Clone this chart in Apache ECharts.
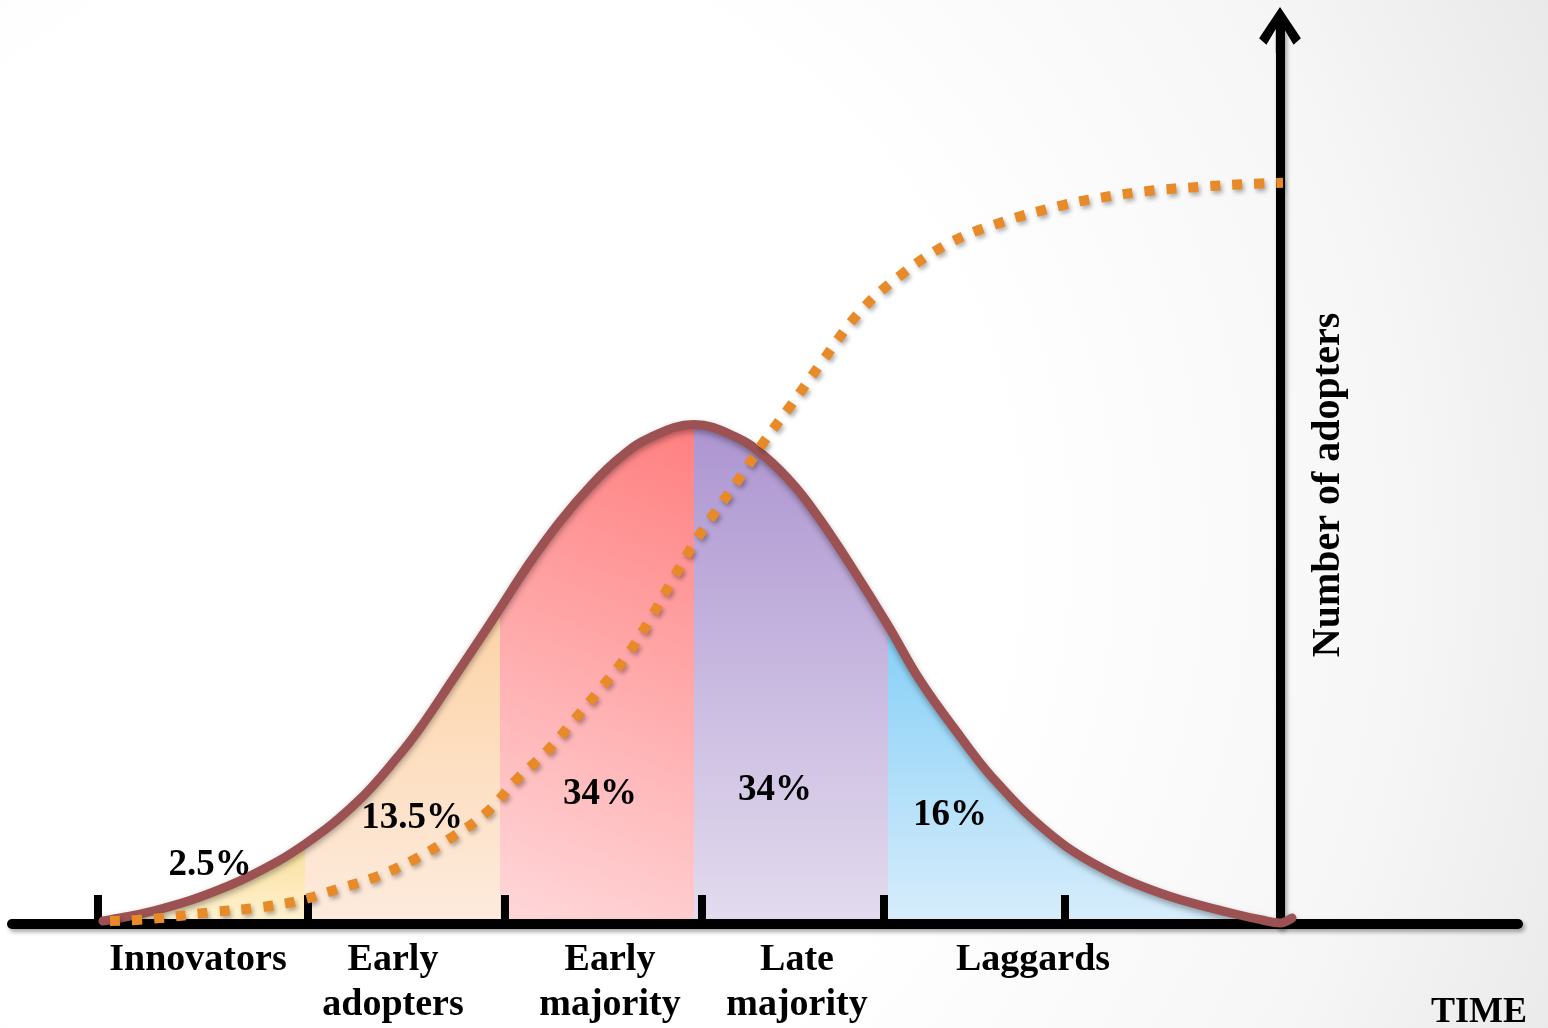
<!DOCTYPE html>
<html>
<head>
<meta charset="utf-8">
<script src="https://cdn.jsdelivr.net/npm/echarts@6/dist/echarts.min.js"></script>
<style>
html,body{margin:0;padding:0;background:#fff;}
#chart{width:1548px;height:1028px;}
</style>
</head>
<body>
<div id="chart"></div>
<script>
// ---- data (x = time position, y = number of adopters, both in drawing units) ----
const tickX = [98, 308, 505, 702, 884, 1065];
const catX = [198, 393, 610, 797, 1033];
const catNames = ['Innovators', 'Early\nadopters', 'Early\nmajority', 'Late\nmajority', 'Laggards'];

const bellX = [103, 125, 157, 200, 250, 305, 357, 400, 420, 453, 487, 500, 530, 560, 590, 620, 650, 694,
               735, 765, 795, 820, 850, 888, 920, 960, 993, 1043, 1093, 1160, 1227, 1262, 1280, 1292];
const bellY = [3, 7, 14, 27, 48, 80, 122, 170, 196, 245, 296, 316, 362, 403, 438, 467, 487, 500,
               488, 468, 438, 405, 360, 299, 244, 188, 146, 96, 61, 31, 12, 4, 1, 6];

const segBounds = [103, 305, 500, 694, 888, 1292];

const sX = [110, 150, 213, 255, 297, 338, 378, 415, 452, 487, 517, 546, 573, 600, 627, 650, 671, 692,
            715, 740, 764, 790, 820, 860, 900, 950, 1000, 1060, 1100, 1150, 1200, 1250, 1283];
const sY = [3, 5, 12, 16, 23, 35, 48, 65, 87, 112, 145, 172, 203, 235, 269, 305, 342, 378,
            412, 447, 483, 518, 560, 613, 649, 682, 702, 719, 727, 734, 738, 741, 742];

const pctLabels = ['2.5%', '13.5%', '34%', '34%', '16%'];
const pctX = [210, 412, 600, 775, 950];
const pctY = [59, 106, 130, 134, 109];

// ---- styles ----
const FONT = '"Liberation Serif", "DejaVu Serif", serif';
const segFills = [
  {type:'linear', x:0, y:0, x2:0, y2:1, colorStops:[{offset:0,color:'#fbe09c'},{offset:1,color:'#fff2d2'}]},
  {type:'linear', x:0, y:0, x2:0, y2:1, colorStops:[{offset:0,color:'#fdd3a6'},{offset:1,color:'#fdebde'}]},
  {type:'linear', x:0, y:1, x2:1, y2:0, colorStops:[{offset:0,color:'#ffd8da'},{offset:1,color:'#ff7f80'}]},
  {type:'linear', x:0, y:0, x2:0, y2:1, colorStops:[{offset:0,color:'#ad95d1'},{offset:1,color:'#e3dcee'}]},
  {type:'linear', x:0, y:0, x2:0, y2:1, colorStops:[{offset:0,color:'#84cff7'},{offset:1,color:'#d8edfb'}]}
];

const bellData = bellX.map((x, i) => [x, bellY[i]]);
const sData = sX.map((x, i) => [x, sY[i]]);

const SMOOTH = 0.4;
const series = [];
for (let s = 0; s < 5; s++) {
  const a = segBounds[s], b = segBounds[s + 1];
  series.push({
    type: 'line', z: 2, silent: true,
    data: bellData.filter(p => p[0] >= a && p[0] <= b),
    smooth: SMOOTH, symbol: 'none',
    lineStyle: {width: 0, opacity: 0},
    areaStyle: {color: segFills[s], opacity: 1}
  });
}
series.push({
  type: 'line', z: 10, silent: true, data: bellData,
  smooth: SMOOTH, symbol: 'none',
  lineStyle: {width: 9, color: '#9c5152', cap: 'round', join: 'round',
              shadowBlur: 6, shadowColor: 'rgba(0,0,0,0.35)', shadowOffsetY: 3}
});
series.push({
  type: 'line', z: 11, silent: true, data: sData,
  smooth: SMOOTH, symbol: 'none',
  lineStyle: {width: 10, color: '#e88a28', type: [10, 12], cap: 'butt',
              shadowBlur: 4, shadowColor: 'rgba(0,0,0,0.3)', shadowOffsetX: 2, shadowOffsetY: 3}
});
series.push({
  type: 'scatter', z: 12, silent: true,
  data: pctX.map((x, i) => [x, pctY[i], pctLabels[i]]),
  symbolSize: 1, itemStyle: {color: 'rgba(0,0,0,0)', opacity: 1},
  label: {show: true, position: 'inside', formatter: p => p.data[2], opacity: 1,
          fontFamily: FONT, fontWeight: 'bold', fontSize: 37, color: '#000',
          textBorderWidth: 0, textShadowBlur: 0}
});

const chevron = 'path://M20 0 L40 30 L33 36 L24 21 L24 44 L16 44 L16 21 L7 36 L0 30 Z';

const option = {
  animation: false,
  backgroundColor: {type:'radial', x:0.26, y:0.53, r:1.3,
    colorStops:[{offset:0,color:'#ffffff'},{offset:0.45,color:'#ffffff'},{offset:0.75,color:'#f6f6f6'},{offset:1,color:'#e6e6e6'}]},
  title: {text: 'TIME', right: 16, bottom: -8,
          textStyle: {fontFamily: FONT, fontWeight: 'bold', fontSize: 36, color: '#000'}},
  grid: {left: 12, right: 30, top: 30, bottom: 103},
  xAxis: {
    type: 'value', min: 12, max: 1518, z: 5,
    axisLine: {show: true, onZero: false, lineStyle: {color: '#000', width: 10,
               shadowBlur: 4, shadowColor: 'rgba(0,0,0,0.35)', shadowOffsetX: 2, shadowOffsetY: 3}},
    axisTick: {show: true, inside: true, length: 29, customValues: tickX,
               lineStyle: {color: '#000', width: 8}},
    axisLabel: {show: true, customValues: catX, hideOverlap: false, margin: 14,
                formatter: v => catNames[catX.indexOf(v)],
                fontFamily: FONT, fontWeight: 'bold', fontSize: 38, lineHeight: 45, color: '#000'},
    splitLine: {show: false}
  },
  yAxis: {
    type: 'value', min: 0, max: 895, position: 'right', offset: -238, z: 5,
    name: 'Number of adopters', nameLocation: 'middle', nameRotate: 90, nameGap: 29,
    nameTextStyle: {fontFamily: FONT, fontWeight: 'bold', fontSize: 40, color: '#000', padding: [0, 16, 0, 0]},
    axisLine: {show: true, onZero: false, symbol: ['none', chevron], symbolSize: [46, 46], symbolOffset: [0, 0],
               lineStyle: {color: '#000', width: 9,
               shadowBlur: 4, shadowColor: 'rgba(0,0,0,0.35)', shadowOffsetX: 2, shadowOffsetY: 3}},
    axisTick: {show: false}, axisLabel: {show: false}, splitLine: {show: false}
  },
  series: series
};

const chart = echarts.init(document.getElementById('chart'), null, {renderer: 'canvas'});
chart.setOption(option);
</script>
</body>
</html>
